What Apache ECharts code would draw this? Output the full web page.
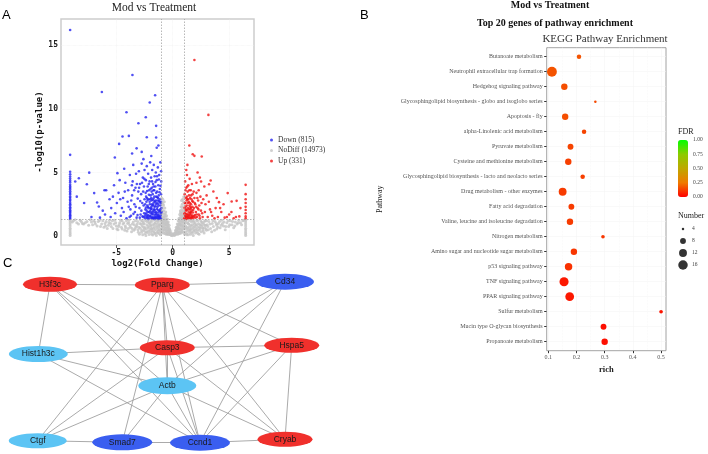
<!DOCTYPE html>
<html><head><meta charset="utf-8">
<script src="https://cdn.jsdelivr.net/npm/echarts@6/dist/echarts.min.js"></script>
<style>html,body{margin:0;padding:0;background:#fff}#c{width:708px;height:454px}</style>
</head><body><div id="c"></div><script>
// ---------------- DATA ----------------
// Panel A: volcano
const volcanoLegend = ['Down (815)', 'NoDiff (14973)', 'Up (331)'];
const volcanoXTicks = [-5, 0, 5];
const volcanoYTicks = [0, 5, 10, 15];
const fcCut = 1, pCut = 1.3;
const downPoints = [
[-9.09,16.2],[-3.57,12.67],[-6.28,11.33],[-1.56,11.07],[-2.04,10.5],[-4.1,9.74],[-2.39,9.35],[-1.47,8.67],[-3.04,8.87],[-3.89,7.88],[-4.45,7.83],[-4.75,7.25],[-2.3,7.77],[-1.47,7.75],[-1.27,7.12],[-1.42,6.95],[-3.2,6.9],[-2.75,6.62],[-3.6,6.5],[-9.09,6.39],[-5.13,6.18],[-1.9,6.3],[-2.6,6.05],
[-9.09,1.36],[-9.09,1.44],[-9.09,1.55],[-9.09,1.63],[-9.09,1.74],[-9.09,1.85],[-9.09,1.93],[-9.09,2.04],[-9.09,2.17],[-9.09,2.26],[-9.09,2.41],[-9.09,2.5],[-9.09,2.62],[-9.09,2.77],[-9.09,2.88],[-9.09,3.02],[-9.09,3.11],[-9.09,3.27],[-9.09,3.38],[-9.09,3.52],[-9.09,3.66],[-9.09,3.79],[-9.09,3.9],[-9.09,4.03],[-9.09,4.21],[-9.09,4.36],[-9.09,4.52],[-9.09,4.69],[-9.09,4.86],[-9.09,5.06],
[-7.4,4.99],[-8.32,4.55],[-8.64,4.29],[-7.61,4.08],[-8.5,3.1],[-7.85,2.6],[-6.7,2.64],[-6.05,3.6],[-5.9,3.6],[-6.96,3.38],[-6.55,2.33],[-6.2,2.0],[-6.0,1.7],[-6.45,1.45],[-7.2,1.5],[-5.6,2.9],[-5.45,2.2],[-5.3,3.1],[-5.1,1.8],[-4.9,4.95],[-4.7,4.4],[-4.95,2.6],[-4.8,3.4],[-4.6,1.6],[-4.5,2.2],[-4.4,3.0],[-4.3,5.3],[-4.2,4.2],[-4.1,1.4],[-4.0,2.7],[-3.95,3.6],[-3.8,4.8],[-3.75,2.1],[-3.7,1.6],[-3.6,3.2],[-3.55,4.3],[-3.5,5.6],[-3.4,2.5],[-3.35,1.9],[-3.3,3.8],[-3.25,4.9],[-3.2,1.45],[-3.1,2.95],[-3.05,3.5],[-3.0,5.1],[-2.95,2.2],[-2.9,4.1],[-2.85,1.7],[-2.8,3.3],[-2.75,5.7],[-2.7,2.6],[-2.65,4.6],[-2.6,1.5],[-2.55,3.9],[-2.5,2.9],[-2.5,5.2],
[-2.45,1.4],[-2.42,2.1],[-2.4,3.4],[-2.38,4.4],[-2.35,1.8],[-2.33,2.7],[-2.3,5.5],[-2.28,3.0],[-2.25,1.5],[-2.22,3.9],[-2.2,2.3],[-2.18,4.9],[-2.15,1.35],[-2.13,2.9],[-2.1,3.6],[-2.08,1.9],[-2.05,4.3],[-2.03,2.5],[-2.0,5.8],[-1.98,1.6],[-1.96,3.2],[-1.94,2.1],[-1.92,4.6],[-1.9,1.4],[-1.88,2.8],[-1.86,3.8],[-1.84,1.75],[-1.82,5.2],[-1.8,2.4],[-1.78,3.3],[-1.76,1.5],[-1.74,4.1],[-1.72,2.0],[-1.7,2.95],[-1.68,5.6],[-1.66,1.4],[-1.64,3.6],[-1.62,2.3],[-1.6,4.7],[-1.58,1.65],[-1.56,2.7],[-1.54,3.9],[-1.52,1.9],[-1.5,5.0],[-1.48,2.5],[-1.46,3.1],[-1.44,1.45],[-1.42,4.4],[-1.4,2.15],[-1.38,3.5],[-1.36,1.7],[-1.34,2.8],[-1.32,5.4],[-1.3,1.35],[-1.28,4.0],[-1.26,2.4],[-1.24,3.2],[-1.22,1.55],[-1.2,4.8],[-1.18,2.0],[-1.16,2.9],[-1.14,3.7],[-1.12,1.45],[-1.1,5.8],[-1.08,2.6],[-1.06,1.8],[-1.04,3.3],[-1.02,4.3],[-1.01,2.2],
[-2.3,1.6],[-2.2,1.9],[-2.1,1.45],[-2.0,2.2],[-1.95,1.8],[-1.85,2.5],[-1.75,1.7],[-1.65,2.1],[-1.55,1.5],[-1.45,1.85],[-1.35,2.3],[-1.25,1.65],[-1.15,1.95],[-1.05,1.4],[-2.05,2.7],[-1.9,3.0],[-1.7,2.6],[-1.5,2.8],[-1.3,3.0],[-1.1,2.4],[-2.25,2.4],[-1.6,1.35],[-1.4,1.4],[-1.2,1.38],[-1.8,1.42],
[-2.27,3.55],[-2.12,4.1],[-1.97,3.7],[-1.83,4.3],[-1.69,3.9],[-1.53,4.25],[-1.39,4.7],[-1.23,4.45],[-1.09,3.95],[-1.03,5.1],[-2.37,2.25],[-1.87,2.15],[-1.63,2.75],[-1.33,2.05],[-1.13,2.7],
[-2.48,1.55],[-2.44,2.5],[-2.41,1.7],[-2.36,3.1],[-2.31,2.0],[-2.27,1.42],[-2.23,2.85],[-2.19,1.65],[-2.16,2.2],[-2.11,3.25],[-2.07,1.58],[-2.02,1.95],[-1.99,2.9],[-1.93,1.52],[-1.89,2.3],[-1.87,3.5],[-1.83,1.9],[-1.79,2.85],[-1.77,1.4],[-1.73,2.45],[-1.71,3.6],[-1.67,1.85],[-1.63,3.1],[-1.59,2.05],[-1.57,1.45],[-1.53,2.35],[-1.49,1.75],[-1.47,3.4],[-1.43,2.6],[-1.39,1.6],[-1.37,3.05],[-1.33,1.5],[-1.29,2.55],[-1.27,1.85],[-1.23,2.75],[-1.19,1.5],[-1.17,3.45],[-1.11,2.1],[-1.07,1.6],[-1.03,2.7],[-1.0,1.9],
[-3.9,2.3],[-3.82,1.5],[-3.68,2.8],[-3.62,4.0],[-3.48,1.75],[-3.42,3.6],[-3.28,2.3],[-3.18,4.1],[-3.12,1.65],[-2.98,3.8],[-2.92,1.45],[-2.88,2.75],[-2.78,2.0],[-2.72,4.2],[-2.68,1.55],[-2.62,3.5],[-2.58,2.4],[-2.53,1.8],[-2.52,4.5],[-4.35,1.9],[-4.25,3.5],[-4.65,2.9],[-5.2,4.0],[-5.5,1.5]
];
const upPoints = [
[1.92,13.85],[3.16,9.53],[1.47,7.12],[1.77,6.44],[1.92,6.31],[2.57,6.26],[1.3,5.6],[1.2,5.2],
[2.51,4.29],[3.36,4.37],[3.22,4.08],[3.6,3.51],[4.1,2.67],[4.87,3.38],[5.22,2.72],[5.66,2.77],[2.2,5.0],[2.4,4.6],[2.8,3.9],[3.0,3.2],[2.9,2.5],[3.3,2.1],[3.5,1.6],[3.8,2.2],[4.0,1.5],[4.3,1.9],[4.6,1.45],[5.0,1.7],[5.4,1.4],[5.9,1.55],[4.5,2.5],[3.9,3.0],[2.7,2.9],[2.6,1.8],[3.1,1.5],[2.3,3.6],[2.1,4.2],
[6.46,4.03],[6.46,3.3],[6.46,2.9],[6.46,2.6],[6.46,2.3],[6.46,2.05],[6.46,1.8],[6.46,1.55],[6.46,1.4],
[1.02,1.4],[1.04,2.2],[1.06,3.3],[1.08,1.8],[1.1,4.3],[1.12,2.6],[1.14,1.5],[1.16,3.0],[1.18,2.0],[1.2,3.8],[1.22,1.35],[1.24,2.4],[1.26,4.8],[1.28,1.7],[1.3,2.9],[1.32,3.5],[1.34,1.45],[1.36,2.2],[1.38,4.0],[1.4,1.9],[1.42,2.7],[1.44,3.2],[1.46,1.55],[1.48,2.4],[1.5,4.5],[1.52,1.8],[1.54,3.0],[1.56,2.1],[1.58,1.4],[1.6,3.6],[1.62,2.5],[1.64,1.7],[1.66,2.9],[1.68,2.0],[1.7,4.1],[1.72,1.5],[1.74,2.3],[1.76,3.3],[1.78,1.85],[1.8,2.7],[1.84,1.45],[1.88,2.2],[1.92,3.0],[1.96,1.65],[2.0,2.5],[2.05,1.9],[2.1,3.4],[2.15,1.5],[2.2,2.2],[2.25,2.8],[2.3,1.7],[2.35,2.4],[2.4,1.4],[2.45,3.1],[2.5,2.0],[1.1,1.6],[1.2,1.75],[1.3,1.5],[1.4,1.4],[1.5,1.65],[1.6,1.9],[1.7,1.4],[1.15,2.3],[1.35,2.6],[1.55,2.3],[1.25,3.1],
[1.03,1.75],[1.07,2.6],[1.11,1.45],[1.13,3.6],[1.17,2.1],[1.19,1.55],[1.23,2.8],[1.27,2.05],[1.29,3.9],[1.33,1.6],[1.37,2.9],[1.39,1.7],[1.43,2.1],[1.47,3.6],[1.51,1.45],[1.53,2.6],[1.57,1.85],[1.61,2.2],[1.63,3.2],[1.67,1.55],[1.73,2.75],[1.77,1.6],[1.81,2.05],[1.86,3.5],[1.9,1.55],[1.95,2.6],[2.02,1.45],[2.08,2.3],[2.12,1.7],[2.18,3.0],[2.28,2.1],[2.38,1.6],[2.55,2.6],[2.65,1.5],[2.85,1.9],[3.2,2.7],[3.4,1.9],[3.7,1.4],[4.2,2.2],[4.8,1.5],[5.2,1.9],[5.6,1.5],[6.0,2.2]
];
const noDiffPoints = [
[-0.98,3.0],[-0.95,2.6],[-0.92,2.2],[-0.9,1.8],[-0.88,2.9],[-0.85,1.5],[-0.82,2.4],[-0.8,2.0],[-0.78,1.3],[-0.75,2.7],[-0.72,1.7],[-0.7,2.2],[-0.68,1.1],[-0.65,1.5],[-0.62,1.9],[-0.6,0.9],[-0.58,1.3],[-0.55,1.6],[-0.52,0.7],[-0.5,1.1],[-0.47,1.35],[-0.45,0.5],[-0.42,0.9],[-0.4,1.1],[-0.37,0.4],[-0.35,0.7],[-0.32,0.85],[-0.3,0.3],[-0.27,0.55],[-0.24,0.45],[-0.2,0.32],[-0.96,1.2],[-0.93,0.8],[-0.9,0.5],[-0.87,1.0],[-0.83,0.3],[-0.8,0.7],[-0.77,0.95],[-0.73,0.45],[-0.7,0.8],[-0.66,0.25],[-0.63,0.6],[-0.58,0.4],[-0.55,0.2],[-0.5,0.35],[-0.47,0.15],[-0.43,0.25],[-0.38,0.12],[-0.97,1.7],[-0.93,2.0],[-0.86,2.5],[-0.84,1.2],
[0.98,3.1],[0.95,2.7],[0.92,2.3],[0.9,1.9],[0.88,2.9],[0.86,1.6],[0.84,2.5],[0.82,2.1],[0.8,1.4],[0.78,2.8],[0.76,1.8],[0.74,2.3],[0.72,1.2],[0.7,1.6],[0.68,2.0],[0.66,1.0],[0.64,1.4],[0.62,1.7],[0.6,0.8],[0.58,1.15],[0.56,1.4],[0.53,0.6],[0.5,0.95],[0.48,1.2],[0.45,0.45],[0.42,0.75],[0.4,0.95],[0.37,0.35],[0.34,0.6],[0.31,0.7],[0.28,0.28],[0.25,0.45],[0.96,1.3],[0.93,0.9],[0.9,0.55],[0.87,1.1],[0.84,0.35],[0.8,0.75],[0.77,1.0],[0.73,0.45],[0.7,0.85],[0.66,0.3],[0.62,0.55],[0.58,0.35],[0.55,0.2],[0.5,0.3],[0.46,0.15],[0.97,2.0],[0.94,1.6],
[-0.15,0.1],[-0.1,0.2],[-0.05,0.05],[0.0,0.15],[0.05,0.08],[0.12,0.2],[0.18,0.1],[0.22,0.25],[-0.25,0.12],[0.3,0.12],
[-0.99,0.6],[-0.94,0.25],[-0.91,1.05],[-0.89,1.4],[-0.86,0.75],[-0.81,1.1],[-0.79,0.5],[-0.76,1.55],[-0.74,0.2],[-0.71,1.3],[-0.69,0.6],[-0.67,1.75],[-0.64,0.95],[-0.61,1.25],[-0.59,0.15],[-0.56,1.05],[-0.54,0.5],[-0.51,0.9],[-0.49,0.2],[-0.46,0.7],[-0.44,1.0],[-0.41,0.55],[-0.39,0.25],[-0.36,0.5],[-0.33,0.2],[-0.29,0.45],[-0.22,0.15],[0.99,0.7],[0.95,0.3],[0.92,1.15],[0.89,1.45],[0.86,0.8],[0.83,1.2],[0.81,0.5],[0.79,1.7],[0.75,0.25],[0.73,1.45],[0.71,0.6],[0.69,1.85],[0.67,0.9],[0.63,1.2],[0.61,0.2],[0.59,0.95],[0.57,0.6],[0.54,0.9],[0.52,0.3],[0.49,0.6],[0.47,0.8],[0.44,0.3],[0.41,0.55],[0.39,0.2],[0.36,0.5],[0.33,0.25],[0.27,0.4],[0.2,0.18],[-0.12,0.05],[0.08,0.12],[0.15,0.05],
[-8.8,1.2],[-8.5,1.05],[-8.2,1.25],[-7.9,0.95],[-7.6,1.15],[-7.3,1.28],[-7.1,0.9],[-6.9,1.1],[-6.7,0.8],[-6.5,1.22],[-6.3,0.95],[-6.1,0.7],[-5.9,1.15],[-5.7,0.85],[-5.5,1.0],[-5.3,0.6],[-5.15,1.25],[-5.0,0.8],[-4.85,0.5],[-4.7,1.05],[-4.55,0.7],[-4.4,0.95],[-4.25,0.45],[-4.1,1.2],[-3.95,0.6],[-3.8,0.85],[-3.65,0.35],[-3.5,1.1],[-3.35,0.55],[-3.2,0.8],[-3.05,0.3],[-2.9,1.0],[-2.75,0.45],[-2.6,0.7],[-2.45,0.2],[-2.3,1.15],[-2.15,0.4],[-2.0,0.85],[-1.85,0.15],[-1.7,0.6],[-1.55,1.05],[-1.4,0.3],[-1.25,0.75],[-1.1,0.1],[-8.0,1.0],[-7.0,1.2],[-6.0,1.0],[-5.6,1.25],[-5.2,0.95],[-4.8,0.75],[-4.5,1.2],[-4.2,0.8],[-3.9,1.05],[-3.6,0.6],[-3.3,1.2],[-3.0,0.7],[-2.8,0.95],[-2.5,0.55],[-2.2,0.75],[-1.95,1.2],[-1.8,0.4],[-1.6,0.25],[-1.45,0.8],[-1.3,0.5],[-1.15,0.95],[-1.05,0.35],[-2.7,1.2],[-3.4,0.9],[-2.35,0.35],[-1.9,0.6],[-1.35,1.2],[-2.1,1.05],[-1.65,0.9],[-1.2,0.2],[-2.6,1.0],[-3.1,1.15],[-4.0,1.0],
[-2.95,0.15],[-2.88,0.62],[-2.82,1.25],[-2.77,0.3],[-2.72,0.82],[-2.66,0.1],[-2.62,1.1],[-2.56,0.42],[-2.52,0.95],[-2.47,0.68],[-2.42,1.22],[-2.38,0.05],[-2.33,0.58],[-2.28,0.9],[-2.24,0.28],[-2.19,1.18],[-2.14,0.65],[-2.09,0.12],[-2.05,1.0],[-2.01,0.5],[-1.97,0.3],[-1.93,0.78],[-1.89,1.1],[-1.85,0.55],[-1.81,0.9],[-1.77,0.08],[-1.73,1.25],[-1.69,0.35],[-1.65,0.7],[-1.61,1.0],[-1.57,0.18],[-1.53,0.5],[-1.49,1.2],[-1.45,0.05],[-1.41,0.65],[-1.37,0.95],[-1.33,0.25],[-1.29,1.1],[-1.25,0.4],[-1.21,0.85],[-1.17,0.6],[-1.13,1.25],[-1.09,0.45],[-1.05,0.85],[-1.02,1.15],
[-8.9,1.1],[-8.65,1.28],[-8.35,0.95],[-8.1,1.15],[-7.75,1.05],[-7.45,0.85],[-7.2,1.1],[-6.85,0.95],[-6.6,1.15],[-6.4,0.75],[-6.2,1.2],[-5.95,0.8],[-5.8,0.6],[-5.65,1.05],[-5.45,0.75],[-5.35,1.2],[-5.05,1.05],[-4.95,0.55],[-4.75,0.9],[-4.62,1.25],[-4.48,0.55],[-4.33,1.05],[-4.18,0.65],[-4.05,0.4],[-3.88,1.25],[-3.75,0.7],[-3.58,0.95],[-3.45,0.45],[-3.28,0.7],[-3.15,0.95],[-3.08,0.5],
[1.05,0.15],[1.2,0.6],[1.35,1.0],[1.5,0.3],[1.65,0.8],[1.8,1.2],[1.95,0.45],[2.1,0.9],[2.25,0.2],[2.4,0.7],[2.55,1.1],[2.7,0.4],[2.85,0.85],[3.0,1.2],[3.15,0.5],[3.3,0.95],[3.45,0.35],[3.6,0.75],[3.75,1.15],[3.9,0.55],[4.05,1.0],[4.2,0.65],[4.35,1.25],[4.5,0.8],[4.65,0.5],[4.8,1.05],[4.95,0.75],[5.1,1.2],[5.25,0.9],[5.4,0.65],[5.55,1.1],[5.7,0.95],[5.85,1.25],[6.0,1.05],[6.2,1.2],[1.1,1.1],[1.3,0.4],[1.45,0.7],[1.6,1.25],[1.75,0.25],[1.9,0.95],[2.05,0.6],[2.2,1.2],[2.35,0.45],[2.5,0.9],[2.65,0.65],[2.8,1.15],[3.1,0.75],[3.5,1.0],[3.9,0.85],[4.4,1.0],[1.25,0.1],[1.55,0.5],[1.85,0.7],[2.15,0.35],[2.95,0.55],
[1.02,0.6],[1.06,1.0],[1.1,0.35],[1.14,0.8],[1.18,1.22],[1.22,0.2],[1.26,0.7],[1.3,1.05],[1.34,0.55],[1.38,0.1],[1.42,0.95],[1.46,1.2],[1.5,0.45],[1.54,0.85],[1.58,0.15],[1.62,0.6],[1.66,1.1],[1.7,0.35],[1.74,0.9],[1.78,0.55],[1.82,0.05],[1.86,1.15],[1.9,0.4],[1.94,0.75],[1.98,1.05],[2.02,0.25],[2.08,0.85],[2.13,1.25],[2.18,0.5],[2.23,0.7],[2.28,1.0],[2.33,0.15],[2.38,0.9],[2.43,0.6],[2.48,1.2],[2.53,0.35],[2.58,0.8],[2.63,1.05],[2.68,0.55],[2.73,0.95],[2.78,0.25],[2.83,0.65],[2.88,1.2],[2.93,0.85],[2.98,0.45],
[3.05,0.9],[3.2,1.15],[3.35,0.6],[3.55,1.2],[3.7,0.45],[3.85,1.0],[4.0,0.7],[4.15,1.15],[4.3,0.85],[4.55,1.1],[4.7,0.75],[4.9,1.2],[5.05,0.9],[5.3,1.15],[5.5,0.8],[5.8,1.05],[6.1,0.9],[6.3,1.25],
[-9.09,1.25],[-9.09,1.1],[-9.09,0.95],[-9.09,0.8],[-9.09,0.62],[-9.09,0.48],[-9.09,0.33],[-9.09,0.18],[-9.09,0.05],
[6.46,1.25],[6.46,1.1],[6.46,0.95],[6.46,0.8],[6.46,0.62],[6.46,0.48],[6.46,0.33],[6.46,0.18],[6.46,0.05]
];

// Panel B: KEGG enrichment
const keggPathways = [
'Butanoate metabolism','Neutrophil extracellular trap formation','Hedgehog signaling pathway',
'Glycosphingolipid biosynthesis - globo and isoglobo series','Apoptosis - fly','alpha-Linolenic acid metabolism',
'Pyruvate metabolism','Cysteine and methionine metabolism','Glycosphingolipid biosynthesis - lacto and neolacto series',
'Drug metabolism - other enzymes','Fatty acid degradation','Valine, leucine and isoleucine degradation',
'Nitrogen metabolism','Amino sugar and nucleotide sugar metabolism','p53 signaling pathway',
'TNF signaling pathway','PPAR signaling pathway','Sulfur metabolism','Mucin type O-glycan biosynthesis','Propanoate metabolism'];
const keggRich   = [0.209,0.113,0.157,0.267,0.160,0.227,0.179,0.171,0.222,0.151,0.182,0.177,0.294,0.191,0.172,0.156,0.176,0.500,0.296,0.300];
const keggNumber = [6,17,9,4,9,6,8,9,6,12,8,9,5,9,11,15,14,5,8,9];
const keggFDR    = [0.17,0.17,0.16,0.15,0.16,0.14,0.14,0.13,0.13,0.12,0.12,0.12,0.11,0.11,0.10,0.05,0.05,0.04,0.03,0.03];
const keggXTicks = [0.1,0.2,0.3,0.4,0.5];
const keggXMinor = [0.15,0.25,0.35,0.45];
const fdrTicks = [0,0.25,0.5,0.75,1];
const numberLegend = [4,8,12,16];

// Panel C: network
const geneNames = ['H3f3c','Pparg','Cd34','Hist1h3c','Casp3','Hspa5','Actb','Ctgf','Smad7','Ccnd1','Cryab'];
const geneGroup = ['up','up','down','other','up','up','other','other','down','down','up'];
const geneEdges = [
['H3f3c','Pparg'],['Pparg','Cd34'],['H3f3c','Hist1h3c'],['H3f3c','Casp3'],['H3f3c','Actb'],['H3f3c','Ccnd1'],
['Pparg','Casp3'],['Pparg','Actb'],['Pparg','Ccnd1'],['Pparg','Cryab'],['Pparg','Hspa5'],['Pparg','Ctgf'],['Pparg','Smad7'],
['Cd34','Casp3'],['Cd34','Actb'],['Cd34','Ccnd1'],
['Hist1h3c','Casp3'],['Hist1h3c','Actb'],['Hist1h3c','Ccnd1'],
['Casp3','Hspa5'],['Casp3','Actb'],['Casp3','Ccnd1'],['Casp3','Ctgf'],['Casp3','Cryab'],
['Hspa5','Actb'],['Hspa5','Ccnd1'],['Hspa5','Cryab'],
['Actb','Ctgf'],['Actb','Smad7'],['Actb','Ccnd1'],['Actb','Cryab'],
['Ctgf','Smad7'],['Smad7','Ccnd1'],['Ccnd1','Cryab']];

// ---------------- LAYOUT (not data) ----------------
const NODE_POS = {H3f3c:[50,284.3],Pparg:[162.3,285],Cd34:[285,281.7],Hist1h3c:[38.3,354],Casp3:[167.3,347.7],
  Hspa5:[291.7,345.3],Actb:[167.3,385.7],Ctgf:[37.7,440.7],Smad7:[122.3,442.3],Ccnd1:[200,442.7],Cryab:[285,439.3]};
const NODE_SIZE = {H3f3c:[54,15],Pparg:[55,15],Cd34:[58,16],Hist1h3c:[59,16],Casp3:[55,15],Hspa5:[55,15],
  Actb:[58,17],Ctgf:[58,15],Smad7:[60,16],Ccnd1:[60,16],Cryab:[55,15]};

const serif = 'Liberation Serif', mono = 'DejaVu Sans Mono', sans = 'Liberation Sans';
const bubble = n => Math.sqrt(Math.max(7 * n - 21.75, 4));
const ellipse = 'path://M0,50A50,50,0,1,1,100,50A50,50,0,1,1,0,50Z';
const gridLine = {color:'#f2f2f2', width:0.5, type:'solid'};
const thresh = {color:'#9a9a9a', width:0.7, type:[1.5,1.5]};

const chart = echarts.init(document.getElementById('c'));
chart.setOption({
  animation:false,
  title:[
    {text:'A', left:2, top:9, padding:0, textStyle:{fontFamily:sans,fontSize:13,fontWeight:'normal',color:'#000'}},
    {text:'B', left:360, top:9, padding:0, textStyle:{fontFamily:sans,fontSize:13,fontWeight:'normal',color:'#000'}},
    {text:'C', left:3, top:257, padding:0, textStyle:{fontFamily:sans,fontSize:13,fontWeight:'normal',color:'#000'}},
    {text:'Mod vs Treatment', left:154, top:2, padding:0, textAlign:'center', textStyle:{fontFamily:serif,fontSize:11.5,fontWeight:'normal',color:'#222'}},
    {text:'Mod vs Treatment', left:550, top:0, padding:0, textAlign:'center', textStyle:{fontFamily:serif,fontSize:10,fontWeight:'bold',color:'#111'}},
    {text:'Top 20 genes of pathway enrichment', left:555, top:18.5, padding:0, textAlign:'center', textStyle:{fontFamily:serif,fontSize:10,fontWeight:'bold',color:'#111'}},
    {text:'KEGG Pathway Enrichment', left:605, top:34, padding:0, textAlign:'center', textStyle:{fontFamily:serif,fontSize:11,fontWeight:'normal',color:'#333'}},
    {text:'FDR', left:678, top:128, padding:0, textStyle:{fontFamily:serif,fontSize:8,fontWeight:'normal',color:'#222'}},
    {text:'Number', left:678, top:212, padding:0, textStyle:{fontFamily:serif,fontSize:8,fontWeight:'normal',color:'#222'}}
  ],
  legend:{data:volcanoLegend, orient:'vertical', left:265, top:131, itemWidth:3, itemHeight:3, itemGap:2.5, icon:'circle',
    selectedMode:false, textStyle:{fontFamily:serif,fontSize:7.5,color:'#333'}},
  grid:[
    {left:61, right:454, top:19, bottom:209, show:true, borderColor:'#cdcdcd', borderWidth:1.5},
    {left:546.7, right:42, top:47.7, bottom:103.3, show:true, borderColor:'#8c8c8c', borderWidth:0.8},
    {left:678, width:10, top:140, height:57},
    {left:678, width:10, top:223, height:48}
  ],
  xAxis:[
    {gridIndex:0, type:'value', min:-9.9, max:7.2, axisLine:{show:false, onZero:false}, splitLine:{show:false},
     axisTick:{customValues:volcanoXTicks, length:3, lineStyle:{color:'#666'}},
     axisLabel:{customValues:volcanoXTicks, fontFamily:mono, fontWeight:'bold', fontSize:8, color:'#222', margin:4},
     name:'log2(Fold Change)', nameLocation:'middle', nameGap:14,
     nameTextStyle:{fontFamily:mono, fontWeight:'bold', fontSize:9, color:'#111'}},
    {gridIndex:1, type:'value', min:0.0945, max:0.5175, axisLine:{show:false, onZero:false}, splitLine:{show:false},
     axisTick:{customValues:keggXTicks, length:2.5, lineStyle:{color:'#333'}},
     axisLabel:{customValues:keggXTicks, formatter:v=>v.toFixed(1), fontFamily:serif, fontSize:6, color:'#555', margin:4},
     name:'rich', nameLocation:'middle', nameGap:11, nameTextStyle:{fontFamily:serif, fontWeight:'bold', fontSize:8.5, color:'#222'}},
    {gridIndex:2, type:'value', show:false, min:0, max:1, axisLine:{onZero:false}},
    {gridIndex:3, type:'value', show:false, min:-1, max:1, axisLine:{onZero:false}}
  ],
  yAxis:[
    {gridIndex:0, type:'value', min:-0.7, max:17.07, axisLine:{show:false, onZero:false}, splitLine:{show:false},
     axisTick:{show:false},
     axisLabel:{customValues:volcanoYTicks, fontFamily:mono, fontWeight:'bold', fontSize:8, color:'#222', margin:3},
     name:'-log10(p-value)', nameLocation:'middle', nameGap:16,
     nameTextStyle:{fontFamily:mono, fontWeight:'bold', fontSize:9, color:'#111'}},
    {gridIndex:1, type:'value', min:-0.6, max:19.6, inverse:true, axisLine:{show:false, onZero:false}, splitLine:{show:false},
     axisTick:{customValues:keggPathways.map((_, i) => i), length:2.5, lineStyle:{color:'#333'}},
     axisLabel:{customValues:keggPathways.map((_, i) => i), formatter:v=>keggPathways[Math.round(v)], fontFamily:serif, fontSize:6, color:'#555', margin:4},
     name:'Pathway', nameLocation:'middle', nameGap:163, nameTextStyle:{fontFamily:serif, fontSize:8, color:'#222'}},
    {gridIndex:2, type:'value', min:0, max:1, interval:0.25, position:'right', axisLine:{show:false, onZero:false}, axisTick:{show:false}, splitLine:{show:false},
     axisLabel:{formatter:v=>v.toFixed(2), fontFamily:serif, fontSize:5.5, color:'#444', margin:5}},
    {gridIndex:3, type:'category', data:numberLegend.map(String), inverse:true, position:'right', axisLine:{show:false, onZero:false}, axisTick:{show:false}, splitLine:{show:false},
     axisLabel:{fontFamily:serif, fontSize:5.5, color:'#444', margin:4}}
  ],
  visualMap:[{type:'continuous', seriesIndex:4, dimension:3, min:0, max:1, left:678, top:140, itemWidth:10, itemHeight:57,
    calculable:false, text:null, padding:0, hoverLink:false,
    inRange:{color:['#ff0000','#ef7a00','#bfa800','#8ccb00','#00ff00']}}],
  series:[
    {type:'scatter', name:'NoDiff (14973)', xAxisIndex:0, yAxisIndex:0, data:noDiffPoints, symbolSize:3,
     itemStyle:{color:'#c4c4c4'}, silent:true, z:2,
     markLine:{silent:true, symbol:'none', label:{show:false}, animation:false, z:1,
       data:[
         ...volcanoXTicks.map(v=>({xAxis:v, lineStyle:{color:'#efefef', width:0.6, type:'dotted'}})),
         ...volcanoYTicks.filter(v=>v>0).map(v=>({yAxis:v, lineStyle:{color:'#efefef', width:0.6, type:'dotted'}}))
       ]}},
    {type:'scatter', name:'Down (815)', xAxisIndex:0, yAxisIndex:0, data:downPoints, symbolSize:2.6,
     itemStyle:{color:'#2424f0'}, silent:true, z:3},
    {type:'scatter', name:'Up (331)', xAxisIndex:0, yAxisIndex:0, data:upPoints, symbolSize:2.6,
     itemStyle:{color:'#f01414'}, silent:true, z:3,
     markLine:{silent:true, symbol:'none', label:{show:false}, animation:false, z:6,
       data:[{xAxis:-fcCut, lineStyle:thresh},{xAxis:fcCut, lineStyle:thresh},{yAxis:pCut, lineStyle:thresh}]}},
    {type:'scatter', name:'kegg-grid', xAxisIndex:1, yAxisIndex:1, data:[], silent:true, z:1,
     markLine:{silent:true, symbol:'none', label:{show:false}, animation:false, z:1,
       data:[
         ...keggXTicks.map(v=>({xAxis:v, lineStyle:gridLine})),
         ...keggXMinor.map(v=>({xAxis:v, lineStyle:{color:'#f7f7f7', width:0.5}})),
         ...keggPathways.map((_, i)=>({yAxis:i, lineStyle:gridLine}))
       ]}},
    {type:'scatter', name:'kegg', xAxisIndex:1, yAxisIndex:1, z:4, silent:true,
     data:keggPathways.map((p, i)=>[keggRich[i], i, keggNumber[i], keggFDR[i]]),
     symbolSize:d=>bubble(d[2]), itemStyle:{opacity:1}},
    {type:'scatter', name:'number-legend', xAxisIndex:3, yAxisIndex:3, silent:true,
     data:numberLegend.map(n=>[0, String(n)]), symbolSize:d=>bubble(+d[1]), itemStyle:{color:'#000'}},
    {type:'graph', layout:'none', left:37.7, top:281.7, width:254, height:161, roam:false, silent:true,
     symbol:ellipse,
     categories:[{name:'up', itemStyle:{color:'#f0302c'}},{name:'down', itemStyle:{color:'#3a5ef0'}},{name:'other', itemStyle:{color:'#5cc4f4'}}],
     data:geneNames.map((g, i)=>({name:g, x:NODE_POS[g][0], y:NODE_POS[g][1], symbolSize:NODE_SIZE[g],
        category:['up','down','other'].indexOf(geneGroup[i])})),
     links:geneEdges.map(([s, t])=>({source:s, target:t})),
     label:{show:true, position:'inside', fontFamily:sans, fontSize:8.5, color:'#1a1a1a'},
     lineStyle:{color:'#a0a0a0', width:0.9, opacity:1, curveness:0},
     emphasis:{disabled:true}}
  ]
});
</script></body></html>
